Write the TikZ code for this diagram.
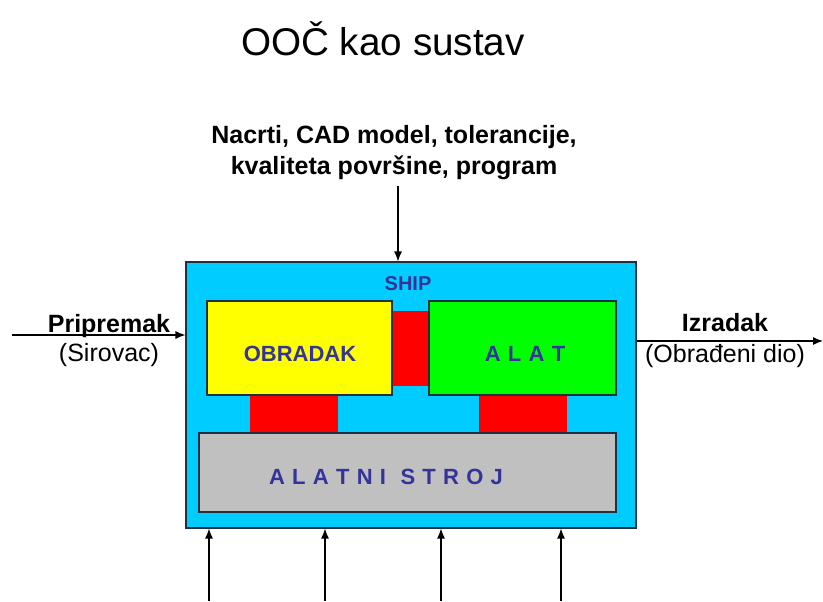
\documentclass[tikz,border=0pt]{standalone}
\usepackage{fontspec}
\setmainfont{Liberation Sans}
\usetikzlibrary{arrows.meta,fit}
\definecolor{shipcyan}{HTML}{00CCFF}
\definecolor{boxyellow}{HTML}{FFFF00}
\definecolor{boxgreen}{HTML}{00FF00}
\definecolor{boxred}{HTML}{FF0000}
\definecolor{boxgray}{HTML}{C0C0C0}
\definecolor{inktext}{HTML}{333399}
\definecolor{edge}{HTML}{203040}
\newcommand\lsp{\hspace{0.33em}}
\tikzset{
  blk/.style={inner sep=0pt, draw=edge, line width=0.8pt},
  pad/.style={inner sep=0pt, fill=boxred},
  arr/.style={line width=0.9pt, -{Latex[length=7.5pt,width=6pt]}},
  lbl/.style={anchor=base, inner sep=0pt, font=\fontsize{18.75}{20}\selectfont},
  inner/.style={anchor=base, inner sep=0pt, text=inktext, font=\fontsize{16.5}{18}\selectfont\bfseries},
}
\begin{document}
\begin{tikzpicture}[x=0.75pt,y=-0.75pt]
\useasboundingbox (0,0) rectangle (823,601);
% title
\node[anchor=base, inner sep=0pt, font=\fontsize{29}{31}\selectfont] (title) at (383,55) {OOČ kao sustav};
% top input text
\node[lbl, font=\fontsize{18.75}{20}\selectfont\bfseries] (in1) at (394,143) {Nacrti, CAD model, tolerancije,};
\node[lbl, font=\fontsize{18.75}{20}\selectfont\bfseries] (in2) at (394,174) {kvaliteta površine, program};
% system box
\node[blk, fill=shipcyan, fit={(186,262) (636,528)}] (sys) {};
% red pads
\node[pad, fit={(392,311) (429,386)}] (padm) {};
\node[pad, fit={(250,393) (338,434)}] (padl) {};
\node[pad, fit={(479,393) (567,434)}] (padr) {};
% blocks
\node[blk, fill=boxyellow, fit={(207,301) (392,395)}] (obr) {};
\node[blk, fill=boxgreen, fit={(429,301) (616,395)}] (alat) {};
\node[blk, fill=boxgray, fit={(199,433) (616,512)}] (stroj) {};
% inner labels
\node[inner, font=\fontsize{15}{17}\selectfont\bfseries] (ship) at (408,290) {SHIP};
\node[inner] (obrt) at (300,361) {OBRADAK};
\node[inner] (alatt) at (525,361) {A\lsp L\lsp A\lsp T};
\node[inner] (strojt) at (386,484) {A\lsp L\lsp A\lsp T\lsp N\lsp I\lsp\lsp S\lsp T\lsp R\lsp O\lsp J};
% outer labels
\node[lbl, font=\fontsize{18.75}{20}\selectfont\bfseries] (prip) at (109,332) {Pripremak};
\node[lbl] (sir) at (109,361) {(Sirovac)};
\node[lbl, font=\fontsize{18.75}{20}\selectfont\bfseries] (izr) at (725,331) {Izradak};
\node[lbl] (obd) at (725,362) {(Obrađeni dio)};
% connectors
\coordinate (topin) at (398,186);
\coordinate (lin) at (12,335);
\coordinate (rout) at (823,341);
\coordinate (b1) at (209,601);
\coordinate (b2) at (325,601);
\coordinate (b3) at (441,601);
\coordinate (b4) at (561,601);
\draw[arr] (topin) -- (topin |- sys.north);
\draw[arr] (lin) -- (lin -| sys.west);
\draw[arr] (sys.east |- rout) -- (rout);
\draw[arr] (b1) -- (b1 |- sys.south);
\draw[arr] (b2) -- (b2 |- sys.south);
\draw[arr] (b3) -- (b3 |- sys.south);
\draw[arr] (b4) -- (b4 |- sys.south);
\end{tikzpicture}
\end{document}
